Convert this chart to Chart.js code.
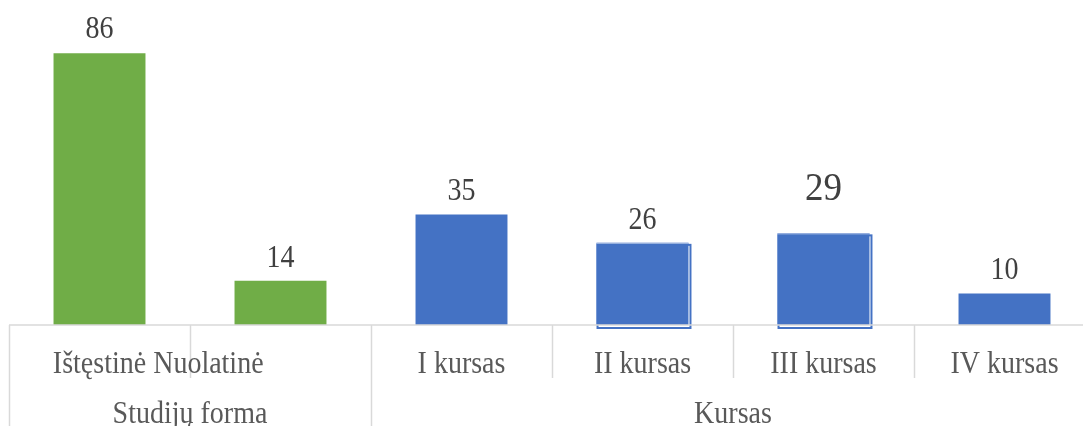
<!DOCTYPE html>
<html><head><meta charset="utf-8">
<script src="https://cdn.jsdelivr.net/npm/chart.js@4.4.1/dist/chart.umd.min.js"></script>
<style>html,body{margin:0;padding:0;overflow:hidden;background:#fff}canvas{display:block}</style>
</head><body>
<canvas id="c" width="1100" height="426"></canvas>
<script>
const categories = ["Ištęstinė", "Nuolatinė", "I kursas", "II kursas", "III kursas", "IV kursas"];
const values = [86, 14, 35, 26, 29, 10];
const groups = ["Studijų forma", "Kursas"];
const groupSizes = [2, 4];
const barColors = ["#70AD47", "#70AD47", "#4472C4", "#4472C4", "#4472C4", "#4472C4"];
const labelFontSizes = [28, 28, 28, 28, 37, 28];
const labelGaps = [15, 14, 14, 14, 33, 14];
const outlinedBars = [3, 4];

const FONT = '"Liberation Serif", "Times New Roman", serif';
const STRETCH = 1.1;

function stretchedText(ctx, text, x, y) {
  ctx.save();
  ctx.translate(x, y);
  ctx.scale(1, STRETCH);
  ctx.fillText(text, 0, 0);
  ctx.restore();
}

const overlay = {
  id: 'overlay',
  afterDatasetsDraw(chart) {
    const ctx = chart.ctx;
    const x = chart.scales.x, y = chart.scales.y;
    const area = chart.chartArea;
    const meta = chart.getDatasetMeta(0);
    const step = (area.right - area.left) / categories.length;
    const base = y.getPixelForValue(0);

    // outline artifacts on some bars
    outlinedBars.forEach(i => {
      const b = meta.data[i];
      const x0 = b.x - b.width / 2, x1 = b.x + b.width / 2;
      ctx.save();
      ctx.strokeStyle = '#4472C4';
      ctx.lineWidth = 2;
      ctx.strokeRect(x0 + 1, b.y + 2, b.width + 1, base + 3 - b.y - 2);
      ctx.strokeStyle = '#A9BEE4';
      ctx.lineWidth = 1;
      ctx.beginPath();
      ctx.moveTo(x0, b.y + 0.5); ctx.lineTo(x1, b.y + 0.5);
      ctx.stroke();
      ctx.restore();
    });

    // axis line
    ctx.save();
    ctx.strokeStyle = '#D9D9D9';
    ctx.lineWidth = 1.5;
    ctx.beginPath();
    ctx.moveTo(area.left, base); ctx.lineTo(area.right, base);
    ctx.stroke();

    // separators
    let idx = 0;
    const boundaries = [0];
    groupSizes.forEach(s => { idx += s; boundaries.push(idx); });
    for (let i = 0; i <= categories.length; i++) {
      const px = Math.round(area.left + i * step) + 0.5;
      const full = boundaries.includes(i);
      ctx.beginPath();
      ctx.moveTo(px, base);
      ctx.lineTo(px, full ? chart.height : base + 53);
      ctx.stroke();
    }
    ctx.restore();

    // data labels
    ctx.save();
    ctx.fillStyle = '#404040';
    ctx.textAlign = 'center';
    ctx.textBaseline = 'alphabetic';
    meta.data.forEach((b, i) => {
      ctx.font = labelFontSizes[i] + 'px ' + FONT;
      stretchedText(ctx, String(values[i]), b.x, b.y - labelGaps[i]);
    });
    ctx.restore();

    // category labels
    ctx.save();
    ctx.fillStyle = '#595959';
    ctx.font = '28px ' + FONT;
    ctx.textBaseline = 'alphabetic';
    const catBase = base + 48;
    let prevEnd = null;
    categories.forEach((c, i) => {
      const cx = x.getPixelForValue(i);
      if (i === 1) {
        ctx.textAlign = 'left';
        stretchedText(ctx, c, prevEnd + ctx.measureText(' ').width, catBase);
      } else {
        ctx.textAlign = 'center';
        stretchedText(ctx, c, cx, catBase);
        prevEnd = cx + ctx.measureText(c).width / 2;
      }
    });
    // group labels
    ctx.textAlign = 'center';
    let start = 0;
    groups.forEach((g, gi) => {
      const l = area.left + start * step;
      const r = area.left + (start + groupSizes[gi]) * step;
      stretchedText(ctx, g, (l + r) / 2, base + 98);
      start += groupSizes[gi];
    });
    ctx.restore();
  }
};

new Chart(document.getElementById('c'), {
  type: 'bar',
  data: {
    labels: categories,
    datasets: [{
      data: values,
      backgroundColor: barColors,
      borderWidth: 0,
      categoryPercentage: 1,
      barPercentage: 0.508
    }]
  },
  options: {
    responsive: false,
    animation: false,
    devicePixelRatio: 1,
    layout: { padding: { left: 9, right: 5, top: 9, bottom: 101 } },
    plugins: { legend: { display: false }, tooltip: { enabled: false } },
    scales: {
      x: { display: false },
      y: { display: false, min: 0, max: 100 }
    }
  },
  plugins: [overlay]
});
</script>
</body></html>
